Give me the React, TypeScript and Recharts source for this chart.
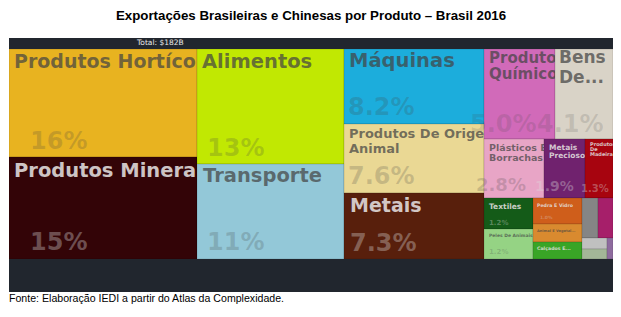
import React from "react";
import { Treemap } from "recharts";

// ---- data ----
const categories = [
  "Produtos Hortícolas",
  "Produtos Minerais",
  "Alimentos",
  "Transporte",
  "Máquinas",
  "Produtos De Origem Animal",
  "Metais",
  "Produtos Químicos",
  "Bens De Papel",
  "Plásticos E Borrachas",
  "Metais Preciosos",
  "Produtos De Madeira",
  "Textiles",
  "Peles De Animais",
  "Pedra E Vidro",
  "Animal E Vegetal Bi-Produtos",
  "Calçados E Chapéus",
  "Instrumentos",
  "Diversos",
  "Armas",
  "Arte E Antiguidades",
  "Outros",
];

const shares = [
  16.0, 15.1, 13.3, 10.9, 8.2, 7.6, 7.3, 5.0, 4.1, 2.8, 1.9, 1.3, 1.2, 1.16, 1.0, 0.7, 0.66,
  0.48, 0.48, 0.21, 0.19, 0.1,
];

const tileColors = [
  "#e8b320", "#330407", "#c1e802", "#93c8d8", "#1caddc", "#ead894", "#581f0c",
  "#d16ab9", "#d9d3c7", "#e8a5c6", "#70226e", "#a7040f", "#145b18", "#95d384",
  "#cf5e1b", "#d98a2f", "#39a526", "#858585", "#a61f6a", "#c0c0c0", "#a3b698", "#8e6b9e",
];

const titleText = "Exportações Brasileiras e Chinesas por Produto – Brasil 2016";
const totalText = "Total: $182B";
const sourceText = "Fonte: Elaboração IEDI a partir do Atlas da Complexidade.";

// grouping of the product indices used for the treemap hierarchy
const layoutGroups: any[] = [
  0, 1, 2, 3, 4, 5, 6,
  [7, 8, [[9, 10], 11], [12, 13, 14, 15, 16, [[17, 18], [[19, 20], 21]]]],
];

// ---- label styles (kept apart from the data) ----
type LS = {
  lines?: string[]; fs?: number; dx?: number; dy?: number; lh?: number; light?: boolean;
  pfs?: number; pdx?: number; pdy?: number; pa?: number; noClip?: boolean;
};
const labelStyles: Record<number, LS> = {
  0: { lines: ["Produtos Hortícolas"], fs: 19, dx: 5, dy: 19, pfs: 24, pdx: 21, pdy: 8 },
  1: { lines: ["Produtos Minerais"], fs: 19.5, dx: 5, dy: 20, light: true, pfs: 24, pdx: 21, pdy: 9, noClip: true },
  2: { lines: ["Alimentos"], fs: 19.5, dx: 5, dy: 19, pfs: 24, pdx: 10, pdy: 8 },
  3: { lines: ["Transporte"], fs: 19.5, dx: 6, dy: 18, pfs: 24, pdx: 10, pdy: 9 },
  4: { lines: ["Máquinas"], fs: 19.5, dx: 5, dy: 18, pfs: 24, pdx: 4, pdy: 9 },
  5: { lines: ["Produtos De Origem", "Animal"], fs: 13, dx: 5, dy: 14, lh: 14.5, pfs: 24, pdx: 4, pdy: 9 },
  6: { lines: ["Metais"], fs: 19, dx: 6, dy: 19, light: true, pfs: 24, pdx: 6, pdy: 8 },
  7: { lines: ["Produtos", "Químicos"], fs: 15, dx: 5, dy: 14, lh: 16, pfs: 24, pdx: -14, pdy: 7, pa: 0.16, noClip: true },
  8: { lines: ["Bens", "De..."], fs: 17, dx: 4, dy: 14, lh: 20, pfs: 24, pdx: -18, pdy: 7, pa: 0.16 },
  9: { lines: ["Plásticos E", "Borrachas"], fs: 9.5, dx: 5, dy: 12, lh: 10, pfs: 18, pdx: -8, pdy: 7 },
  10: { lines: ["Metais", "Preciosos"], fs: 7.5, dx: 5, dy: 11, lh: 8, light: true, pfs: 14, pdx: -9, pdy: 7 },
  11: { lines: ["Produtos", "De", "Madeira"], fs: 5, dx: 5, dy: 7, lh: 5, light: true, pfs: 10, pdx: -4, pdy: 6 },
  12: { lines: ["Textiles"], fs: 7.5, dx: 5, dy: 11, light: true, pfs: 7, pdx: 5, pdy: 4 },
  13: { lines: ["Peles De Animais"], fs: 4.5, dx: 5, dy: 8, pfs: 7, pdx: 5, pdy: 5 },
  14: { lines: ["Pedra E Vidro"], fs: 4.7, dx: 4, dy: 9, light: true, pfs: 4.5, pdx: 7, pdy: 5 },
  15: { lines: ["Animal E Vegetal..."], fs: 3.6, dx: 4, dy: 8 },
  16: { lines: ["Calçados E..."], fs: 4.7, dx: 4, dy: 8, light: true },
};

const fmtShare = (v: number) => (v >= 10 ? `${Math.round(v)}%` : `${v.toFixed(1)}%`);

const buildNode = (g: any): any => {
  if (typeof g === "number") {
    return { name: categories[g], value: shares[g], pid: g };
  }
  return { name: "", children: g.map(buildNode) };
};
const treeData = layoutGroups.map(buildNode);

const FONT = "'DejaVu Sans', sans-serif";

const renderTile = (props: any) => {
  const { x, y, width, height, pid } = props;
  if (pid === undefined || pid === null || !(width > 0) || !(height > 0)) return <g />;
  const st = labelStyles[pid] || {};
  const nameFill = st.light ? "#e4e0e0" : "#444";
  const nameOp = st.light ? 0.88 : 0.72;
  const pctFill = st.light ? "#dddddd" : "#444";
  const pctOp = st.pa !== undefined ? st.pa : st.light ? 0.35 : 0.22;
  const clipId = `tile-clip-${pid}`;
  return (
    <g>
      <defs>
        <clipPath id={clipId}>
          <rect x={x} y={y} width={width} height={height} />
        </clipPath>
      </defs>
      <rect
        x={x}
        y={y}
        width={width}
        height={height}
        fill={tileColors[pid]}
        stroke="rgba(0,0,0,0.22)"
        strokeWidth={0.6}
      />
      {st.lines && (
        <text
          x={x + (st.dx || 0)}
          y={y + (st.dy || 0)}
          fontFamily={FONT}
          fontWeight="bold"
          fontSize={st.fs}
          fill={nameFill}
          fillOpacity={nameOp}
          clipPath={st.noClip ? undefined : `url(#${clipId})`}
        >
          {st.lines.map((ln, i) => (
            <tspan key={i} x={x + (st.dx || 0)} dy={i === 0 ? 0 : st.lh}>
              {ln}
            </tspan>
          ))}
        </text>
      )}
      {st.pfs && (
        <text
          x={x + (st.pdx || 0)}
          y={y + height - (st.pdy || 0)}
          fontFamily={FONT}
          fontWeight="bold"
          fontSize={st.pfs}
          fill={pctFill}
          fillOpacity={pctOp}
        >
          {fmtShare(shares[pid])}
        </text>
      )}
    </g>
  );
};

export default function App() {
  return (
    <div style={{ position: "absolute", left: 0, top: 0, width: 621, height: 317, background: "#fff" }}>
      <svg width={621} height={317} style={{ position: "absolute", left: 0, top: 0 }}>
        <text
          x={311}
          y={20}
          textAnchor="middle"
          fontFamily="'Liberation Sans', Arial, sans-serif"
          fontWeight="bold"
          fontSize={13.3}
          fill="#000"
        >
          {titleText}
        </text>
        <rect x={9} y={38} width={604} height={254} fill="#21262e" />
        <text x={137} y={45} fontFamily={FONT} fontSize={7.5} fill="#e8e8e8">
          {totalText}
        </text>
        <text x={9} y={302} fontFamily="'Liberation Sans', Arial, sans-serif" fontSize={10.6} fill="#000">
          {sourceText}
        </text>
      </svg>
      <div style={{ position: "absolute", left: 9, top: 49, width: 604, height: 210 }}>
        <Treemap
          width={604}
          height={210}
          data={treeData}
          dataKey="value"
          nameKey="name"
          aspectRatio={1.8}
          isAnimationActive={false}
          content={renderTile as any}
        />
      </div>
    </div>
  );
}
